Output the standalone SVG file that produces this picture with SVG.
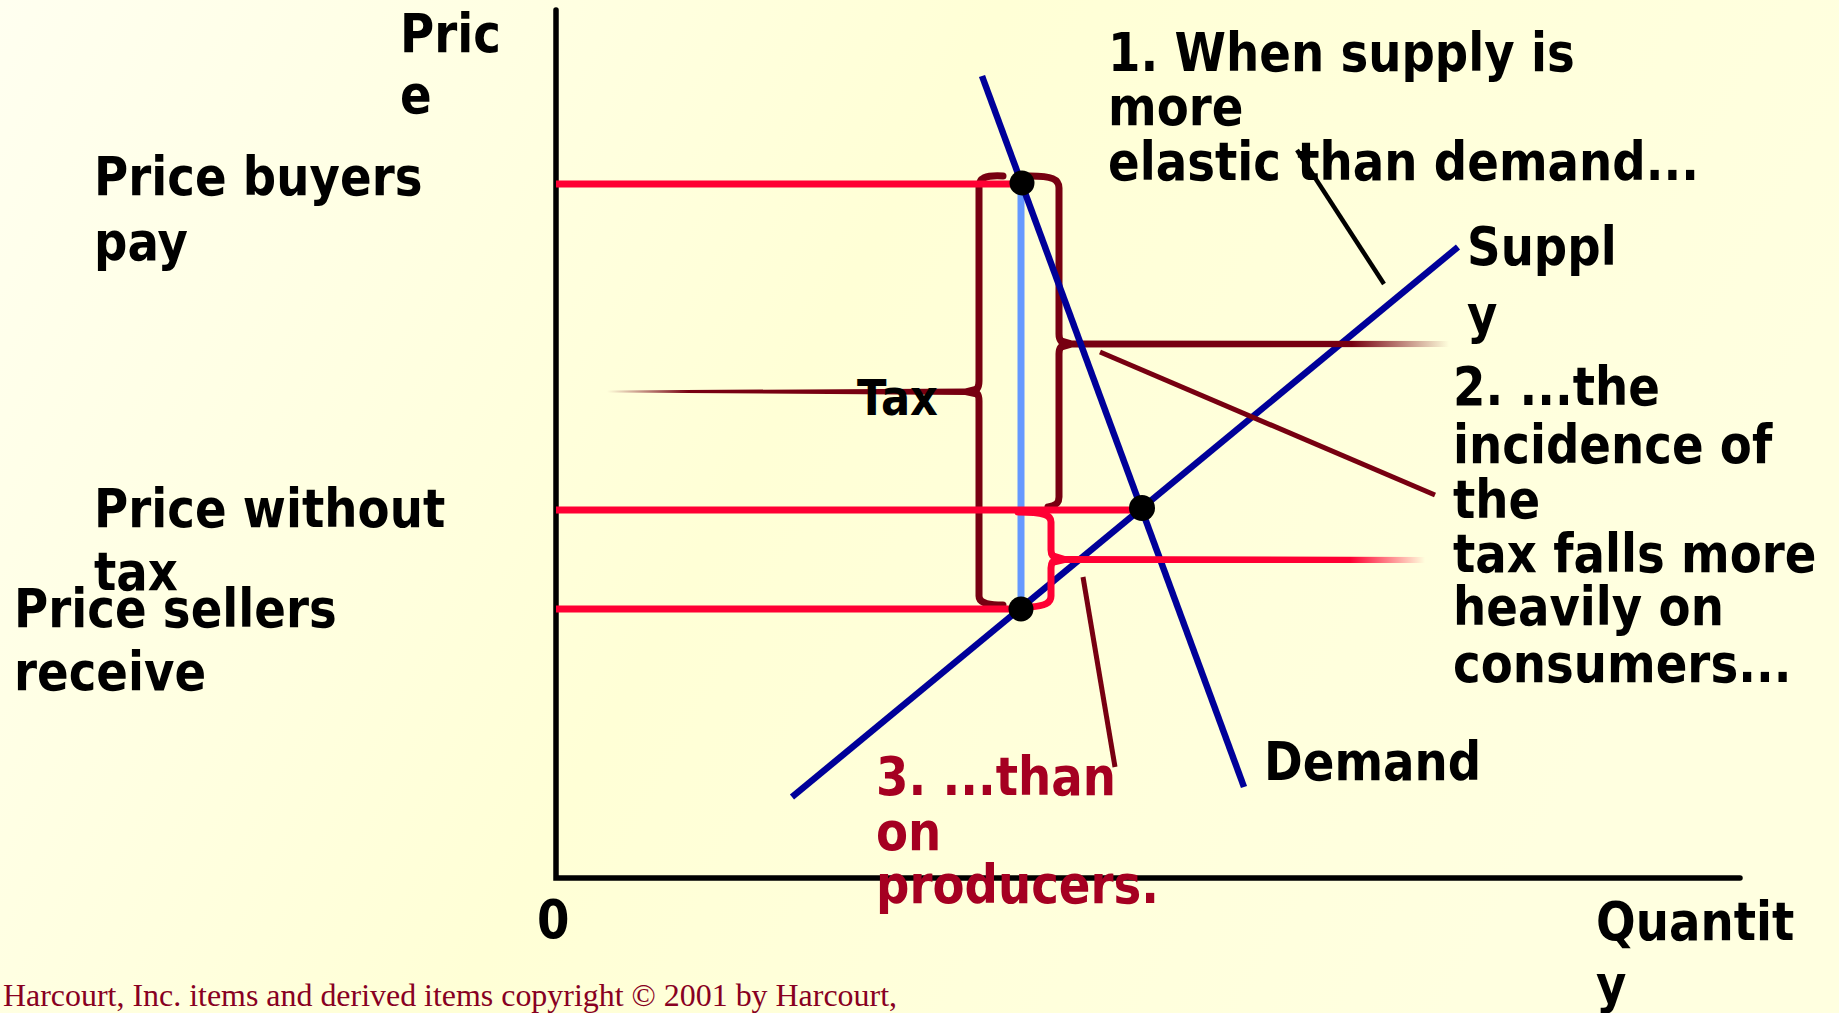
<svg xmlns="http://www.w3.org/2000/svg" width="1839" height="1013" viewBox="0 0 1839 1013">
<defs>
<linearGradient id="bg" x1="0" y1="0" x2="1" y2="0.3">
<stop offset="0" stop-color="#FFFFF0"/>
<stop offset="0.5" stop-color="#FFFFD6"/>
<stop offset="1" stop-color="#FFFFE0"/>
</linearGradient>
<linearGradient id="tailL" gradientUnits="userSpaceOnUse" x1="607" y1="0" x2="979" y2="0">
<stop offset="0" stop-color="#770011" stop-opacity="0"/>
<stop offset="0.22" stop-color="#770011" stop-opacity="1"/>
<stop offset="1" stop-color="#770011" stop-opacity="1"/>
</linearGradient>
<linearGradient id="tailR" gradientUnits="userSpaceOnUse" x1="1060" y1="0" x2="1449" y2="0">
<stop offset="0" stop-color="#770011" stop-opacity="1"/>
<stop offset="0.75" stop-color="#770011" stop-opacity="1"/>
<stop offset="1" stop-color="#770011" stop-opacity="0"/>
</linearGradient>
<linearGradient id="tailRed" gradientUnits="userSpaceOnUse" x1="1052" y1="0" x2="1425" y2="0">
<stop offset="0" stop-color="#FF0033" stop-opacity="1"/>
<stop offset="0.8" stop-color="#FF0033" stop-opacity="1"/>
<stop offset="1" stop-color="#FF0033" stop-opacity="0"/>
</linearGradient>
<style>
.t{font-family:"DejaVu Sans",Verdana,sans-serif;font-weight:bold;font-size:54px;fill:#000}
.r{fill:#A50021}
.axis{stroke:#000;stroke-width:5.5;fill:none;stroke-linecap:round}
.curve{stroke:#000099;stroke-width:6.5;fill:none}
.price{stroke:#FF0033;stroke-width:7;fill:none}
.brace{stroke:#770011;stroke-width:7;fill:none;stroke-linecap:round}
.bracered{stroke:#FF0033;stroke-width:7;fill:none;stroke-linecap:round}
.lead{stroke:#770011;stroke-width:5;fill:none}
.dot{fill:#000}
.copy{font-family:"Liberation Serif","Times New Roman",serif;font-size:31px;fill:#880022}
</style>
</defs>
<rect width="1839" height="1013" fill="url(#bg)"/>

<g id="axes">
<path class="axis" d="M556,10 L556,878 L1740,878"/>
</g>

<g id="connectors">
<line x1="1021" y1="184" x2="1021" y2="609" stroke="#6699FF" stroke-width="7"/>
<line id="supply-line" class="curve" x1="792" y1="797" x2="1458" y2="247"/>
<g id="tax-brace">
<path class="brace" d="M1003,176 C985,175 979,178 979,187 L979,381 C979,388 977,391 971,391 C977,391 979,394 979,401 L979,596 C979,602 985,605 1003,605"/>
<polygon points="607,390.5 965,388.5 979,385 979,398 965,395 607,392.5" fill="url(#tailL)"/>
</g>
<g id="consumer-brace">
<path class="brace" d="M1030,176 C1052,176 1059,179 1059,188 L1059,334 C1059,340 1061,343 1067,344 C1061,345 1059,348 1059,354 L1059,497 C1059,503 1056,506 1048,507"/>
<polygon points="1060,337 1072,340.5 1449,341 1449,347 1072,347.5 1060,351" fill="url(#tailR)"/>
</g>
<line id="demand-line" class="curve" x1="982" y1="76" x2="1244" y2="787"/>
<line class="price" x1="556" y1="184" x2="1022" y2="184"/>
<line class="price" x1="556" y1="510" x2="1141" y2="510"/>
<line class="price" x1="556" y1="609" x2="1021" y2="609"/>
<g id="producer-brace">
<path class="bracered" d="M1018,512 C1044,512 1051,515 1051,522 L1051,550 C1051,555 1053,558 1059,559 C1053,560 1051,563 1051,568 L1051,596 C1051,603 1045,606 1030,607"/>
<polygon points="1052,552 1065,556 1425,557 1425,563 1065,563 1052,566" fill="url(#tailRed)"/>
</g>
<line class="lead" x1="1100" y1="352" x2="1435" y2="495"/>
<line class="lead" x1="1083" y1="577" x2="1115" y2="767"/>
<line x1="1297" y1="150" x2="1384" y2="284" stroke="#000" stroke-width="4.5"/>
</g>

<g id="points">
<circle class="dot" cx="1022" cy="183" r="12.5"/>
<circle class="dot" cx="1142" cy="508" r="13"/>
<circle class="dot" cx="1021" cy="609" r="12.5"/>
</g>

<g id="label-price-axis" transform="translate(400,52) scale(0.865,1)">
<text class="t"><tspan x="0" y="0">Pric</tspan><tspan x="0" y="61">e</tspan></text>
</g>
<g id="label-buyers" transform="translate(94,195) scale(0.865,1)">
<text class="t"><tspan x="0" y="0">Price buyers</tspan><tspan x="0" y="65">pay</tspan></text>
</g>
<g id="label-without" transform="translate(94,527) scale(0.865,1)">
<text class="t"><tspan x="0" y="0">Price without</tspan><tspan x="0" y="63">tax</tspan></text>
</g>
<g id="label-sellers" transform="translate(14,627) scale(0.865,1)">
<text class="t"><tspan x="0" y="0">Price sellers</tspan><tspan x="0" y="63">receive</tspan></text>
</g>
<g id="label-tax" transform="translate(857,415) scale(0.865,1)">
<text class="t" style="font-size:50px">Tax</text>
</g>
<g id="label-1" transform="translate(1108,71) scale(0.865,1)">
<text class="t"><tspan x="0" y="0">1. When supply is</tspan><tspan x="0" y="54">more</tspan><tspan x="0" y="109">elastic than demand...</tspan></text>
</g>
<g id="label-supply" transform="translate(1467,265) scale(0.865,1)">
<text class="t"><tspan x="0" y="0">Suppl</tspan><tspan x="0" y="68">y</tspan></text>
</g>
<g id="label-2" transform="translate(1453,405) scale(0.865,1)">
<text class="t"><tspan x="0" y="0">2. ...the</tspan><tspan x="0" y="58">incidence of</tspan><tspan x="0" y="113">the</tspan><tspan x="0" y="167">tax falls more</tspan><tspan x="0" y="220">heavily on</tspan><tspan x="0" y="277">consumers...</tspan></text>
</g>
<g id="label-demand" transform="translate(1264,780) scale(0.865,1)">
<text class="t">Demand</text>
</g>
<g id="label-3" transform="translate(876,795) scale(0.865,1)">
<text class="t r"><tspan x="0" y="0">3. ...than</tspan><tspan x="0" y="55">on</tspan><tspan x="0" y="108">producers.</tspan></text>
</g>
<g id="label-zero" transform="translate(537,938) scale(0.865,1)">
<text class="t">0</text>
</g>
<g id="label-quantity" transform="translate(1596,940) scale(0.865,1)">
<text class="t"><tspan x="0" y="0">Quantit</tspan><tspan x="0" y="63">y</tspan></text>
</g>
<text class="copy" x="3" y="1006" textLength="894" lengthAdjust="spacingAndGlyphs">Harcourt, Inc. items and derived items copyright © 2001 by Harcourt,</text>
</svg>
